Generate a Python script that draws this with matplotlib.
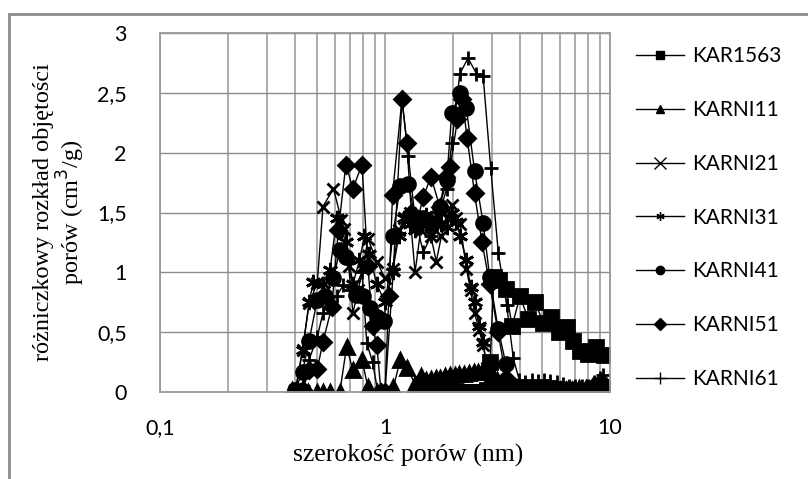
import matplotlib.pyplot as plt
from matplotlib.lines import Line2D
from matplotlib.patches import Rectangle

# dane (szerokosc porow w nm, rozklad w cm3/g)
x_kar1563 = [1.45, 1.52, 1.6, 1.68, 1.76, 1.85, 1.94, 2.04, 2.14, 2.25, 2.36, 2.48, 2.6, 2.72,
             2.85, 2.93, 3.05, 3.22, 3.45, 3.67, 3.98, 4.33, 4.64, 5.05, 5.47, 5.95, 6.42, 6.83,
             7.35, 8.01, 8.66, 9.4]
y_kar1563 = [0, 0, 0, 0, 0, 0, 0, 0, 0, 0, 0, 0, 0, 0,
             0.02, 0.25, 0.96, 0.94, 0.86, 0.55, 0.80, 0.61, 0.75, 0.58, 0.63, 0.50, 0.54, 0.43,
             0.34, 0.32, 0.38, 0.31]

x_karni11 = [0.385, 0.42, 0.454, 0.497, 0.53, 0.57, 0.63, 0.675, 0.72, 0.79, 0.84, 0.92, 1.0,
             1.09, 1.17, 1.25, 1.36, 1.45, 1.52, 1.6, 1.68, 1.76, 1.85, 1.94, 2.04, 2.14, 2.25,
             2.36, 2.48, 2.6, 2.72, 2.85, 3.0, 3.15, 3.3, 3.5, 3.75, 4.0, 4.3, 4.6, 4.9, 5.2,
             5.6, 6.0, 6.4, 6.8, 7.3, 7.8, 8.3, 8.8, 9.3]
y_karni11 = [0.02, 0, 0, 0, 0, 0, 0, 0.38, 0.18, 0.27, 0.04, 0, 0,
             0.04, 0.27, 0.20, 0.07, 0.13, 0.10, 0.11, 0.12, 0.12, 0.13, 0.14, 0.14, 0.15, 0.15,
             0.16, 0.17, 0.17, 0.18, 0.18, 0.15, 0.10, 0.06, 0.04, 0.03, 0.02, 0.02, 0.02, 0.02, 0.02,
             0.02, 0.02, 0.02, 0.02, 0.03, 0.03, 0.04, 0.05, 0.06]

x_karni21 = [0.40, 0.43, 0.46, 0.50, 0.53, 0.59, 0.64, 0.66, 0.69, 0.72, 0.76, 0.80, 0.84, 0.92,
             1.0, 1.08, 1.15, 1.22, 1.29, 1.36, 1.44, 1.52, 1.60, 1.69, 1.78, 1.88, 1.98, 2.07,
             2.16, 2.3, 2.4, 2.5, 2.62, 2.73, 2.85, 3.0, 3.15, 3.3, 3.5, 3.75, 4.0, 4.3, 4.6,
             4.9, 5.2, 5.6, 6.0, 6.4, 6.8, 7.3, 7.8, 8.3, 8.8, 9.3]
y_karni21 = [0.02, 0.35, 0.74, 0.91, 1.55, 1.70, 1.44, 1.36, 1.05, 0.66, 0.85, 1.05, 1.28, 1.09,
             0.95, 1.03, 1.35, 1.45, 1.50, 1.00, 1.35, 1.45, 1.30, 1.09, 1.30, 1.45, 1.56, 1.45,
             1.40, 1.03, 0.85, 0.66, 0.52, 0.39, 0.20, 0.08, 0.04, 0.03, 0.02, 0.02, 0.02, 0.02, 0.02,
             0.02, 0.02, 0.02, 0.02, 0.02, 0.02, 0.02, 0.02, 0.03, 0.04, 0.05]

x_karni31 = [0.40, 0.43, 0.46, 0.48, 0.53, 0.57, 0.61, 0.64, 0.67, 0.72, 0.77, 0.81, 0.85, 0.92,
             1.0, 1.08, 1.15, 1.22, 1.29, 1.36, 1.44, 1.52, 1.60, 1.69, 1.78, 1.88, 1.98, 2.07,
             2.16, 2.3, 2.4, 2.5, 2.62, 2.73, 2.85, 3.0, 3.15, 3.3, 3.5, 3.75, 4.0, 4.3, 4.6,
             4.9, 5.2, 5.6, 6.0, 6.4, 6.8, 7.3, 7.8, 8.3, 8.8, 9.3]
y_karni31 = [0.0, 0.35, 0.75, 0.92, 0.90, 1.02, 1.45, 1.35, 1.25, 0.90, 1.10, 1.30, 1.15, 0.90,
             0.75, 1.00, 1.30, 1.45, 1.40, 1.35, 1.42, 1.48, 1.38, 1.45, 1.40, 1.38, 1.50, 1.42,
             1.30, 1.10, 0.88, 0.75, 0.55, 0.42, 0.18, 0.06, 0.03, 0.02, 0.02, 0.01, 0.01, 0.01, 0.01,
             0.01, 0.01, 0.01, 0.01, 0.01, 0.01, 0.01, 0.02, 0.02, 0.03, 0.04]

x_karni41 = [0.40, 0.43, 0.46, 0.50, 0.54, 0.59, 0.63, 0.67, 0.74, 0.80, 0.86, 0.92, 0.99, 1.08,
             1.17, 1.27, 1.36, 1.48, 1.61, 1.75, 1.88, 1.98, 2.16, 2.3, 2.5, 2.73, 2.92, 3.18,
             3.45, 3.75, 4.0, 4.3, 4.6, 4.9, 5.2, 5.6, 6.0, 6.4, 6.8, 7.3, 7.8, 8.3, 8.8, 9.3]
y_karni41 = [0.02, 0.17, 0.43, 0.77, 0.80, 0.95, 1.19, 1.13, 0.81, 0.80, 0.70, 0.63, 0.59, 1.30,
             1.72, 1.74, 1.46, 1.45, 1.40, 1.55, 1.77, 2.33, 2.50, 2.37, 1.85, 1.41, 0.96, 0.53,
             0.23, 0.05, 0.02, 0.02, 0.02, 0.02, 0.02, 0.02, 0.02, 0.02, 0.02, 0.02, 0.02, 0.03, 0.04, 0.06]

x_karni51 = [0.40, 0.43, 0.46, 0.50, 0.53, 0.58, 0.62, 0.67, 0.72, 0.79, 0.84, 0.88, 0.92, 0.96,
             1.0, 1.04, 1.08, 1.19, 1.25, 1.31, 1.38, 1.48, 1.6, 1.75, 1.86, 1.95, 2.1, 2.2,
             2.32, 2.5, 2.7, 2.92, 3.18, 3.45, 3.75, 4.0, 4.3, 4.6, 4.9, 5.2, 5.6, 6.0, 6.4,
             6.8, 7.3, 7.8, 8.3, 8.8, 9.3]
y_karni51 = [0.0, 0.02, 0.18, 0.19, 0.42, 0.71, 1.35, 1.90, 1.70, 1.90, 1.05, 0.55, 0.39, 0.0,
             0.0, 0.80, 1.65, 2.45, 2.08, 1.50, 1.40, 1.63, 1.80, 1.55, 1.80, 1.88, 2.28, 2.45,
             2.12, 1.66, 1.25, 0.90, 0.50, 0.12, 0.03, 0.02, 0.02, 0.02, 0.02, 0.02, 0.02, 0.02, 0.02,
             0.02, 0.02, 0.02, 0.03, 0.04, 0.05]

x_karni61 = [0.40, 0.43, 0.46, 0.50, 0.53, 0.57, 0.61, 0.65, 0.70, 0.74, 0.79, 0.83, 0.88, 0.93,
             1.0, 1.09, 1.19, 1.27, 1.36, 1.48, 1.6, 1.75, 1.88, 1.98, 2.15, 2.34, 2.55, 2.73,
             2.95, 3.19, 3.47, 3.72, 3.95, 4.2, 4.5, 4.8, 5.1, 5.4, 5.8, 6.2, 6.6, 7.0, 7.5,
             8.0, 8.5, 9.0, 9.3]
y_karni61 = [0.0, 0.05, 0.27, 0.46, 0.66, 0.75, 0.80, 0.89, 0.85, 0.88, 1.00, 0.41, 0.25, 0.0,
             0.0, 1.03, 2.44, 1.97, 1.45, 1.17, 1.30, 1.50, 1.70, 2.08, 2.66, 2.79, 2.66, 2.64,
             1.87, 1.16, 0.73, 0.28, 0.10, 0.08, 0.10, 0.09, 0.10, 0.09, 0.08, 0.07, 0.05, 0.05, 0.05,
             0.05, 0.08, 0.12, 0.14]

serie = [
    ("KAR1563", x_kar1563, y_kar1563, "s", 10),
    ("KARNI11", x_karni11, y_karni11, "^", 10),
    ("KARNI21", x_karni21, y_karni21, "x", 9),
    ("KARNI31", x_karni31, y_karni31, (6, 2, 0), 11),
    ("KARNI41", x_karni41, y_karni41, "o", 10),
    ("KARNI51", x_karni51, y_karni51, "D", 8),
    ("KARNI61", x_karni61, y_karni61, "+", 10),
]

y_ticks = [0, 0.5, 1, 1.5, 2, 2.5, 3]
y_tick_labels = ["0", "0,5", "1", "1,5", "2", "2,5", "3"]
x_ticks = [0.1, 1, 10]
x_tick_labels = ["0,1", "1", "10"]

fig = plt.figure(figsize=(8.08, 4.79), dpi=100)
ax = fig.add_axes([160 / 808, 1 - 392 / 479, 450 / 808, 359 / 479])

uchwyty = []
for nazwa, xs, ys, m, ms in serie:
    ax.plot(xs, ys, color="black", linewidth=1.0, marker=m, markersize=ms,
            markeredgewidth=2, markerfacecolor="black", markeredgecolor="black")
    uchwyty.append(Line2D([0], [0], color="black", linewidth=1, marker=m,
                          markersize=6 if m not in ("x", "+") else 8,
                          markeredgewidth=1, markerfacecolor="black",
                          markeredgecolor="black", label=nazwa))

ax.set_xscale("log")
ax.set_xlim(0.1, 10)
ax.set_ylim(0, 3)
ax.set_yticks(y_ticks)
ax.set_yticklabels(y_tick_labels)
ax.set_xticks(x_ticks)
ax.set_xticklabels(x_tick_labels)
ax.minorticks_on()
ax.yaxis.set_minor_locator(plt.NullLocator())
ax.tick_params(which="both", length=0, labelsize=15.5)
ax.tick_params(axis="y", pad=24)
ax.tick_params(axis="x", pad=19)
for lab in ax.get_xticklabels() + ax.get_yticklabels():
    lab.set_fontfamily("Lato")
ax.grid(True, which="both", axis="x", color="#a6a6a6", linewidth=1.3)
ax.grid(True, which="major", axis="y", color="#8c8c8c", linewidth=1.0)
ax.set_axisbelow(True)
for s in ax.spines.values():
    s.set_color("#9a9a9a")
    s.set_linewidth(1.3)

ax.set_xlabel("szerokość porów (nm)", fontfamily="Liberation Serif", fontsize=18.5)
ax.xaxis.set_label_coords((408 - 160) / 450, -(455 - 392) / 359)
ax.xaxis.label.set_va("center")
ax.set_ylabel("różniczkowy rozkład objętości\nporów (cm$^3$/g)", fontfamily="Liberation Serif",
              fontsize=17.5, linespacing=1.0)
ax.yaxis.set_label_coords(-(160 - 60) / 450, 0.5)
ax.yaxis.label.set_va("center")

fig.legend(handles=uchwyty, loc="upper left", bbox_to_anchor=(628 / 808, 1 - 38 / 479),
           frameon=False, prop={"family": "Lato", "size": 15}, handlelength=2.3,
           handletextpad=0.4, labelspacing=1.62, borderaxespad=0)

fig.patches.append(Rectangle((9 / 808, -0.05), 1.0, 1 - 14 / 479 + 0.05, transform=fig.transFigure,
                             fill=False, edgecolor="#8c8c8c", linewidth=2))

fig.savefig("out.png", dpi=100)
